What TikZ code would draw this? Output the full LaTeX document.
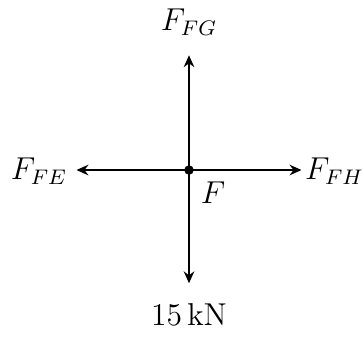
\documentclass[tikz,border=0pt]{standalone}
\usetikzlibrary{positioning, arrows.meta}
\tikzset{force/.style={thick, -{Stealth[length=4.5pt, width=4pt]}},
    lbl/.style={font=\fontsize{11.5}{14}\selectfont}}
\begin{document}
\begin{tikzpicture}
    \useasboundingbox (-2.52, -2.213) rectangle (2.333, 2.267);
    % joint F and the ends of the forces
    \coordinate (jointF) at (0, 0);
    \coordinate (endFG) at (0, 1.53);
    \coordinate (endFE) at (-1.5, 0);
    \coordinate (endFH) at (1.5, 0);
    \coordinate (endLoad) at (0, -1.51);
    \draw[force] (jointF) -- (endFG);
    \draw[force] (jointF) -- (endFE);
    \draw[force] (jointF) -- (endFH);
    \draw[force] (jointF) -- (endLoad);
    \fill (jointF) circle (1.8pt);

    % labels
    \node[lbl] (lblFG) at (0, 1.97) {$F_{FG}$};
    \node[lbl] (lblFE) at (-2.0, -0.02) {$F_{FE}$};
    \node[lbl] (lblFH) at (1.94, -0.02) {$F_{FH}$};
    \node[lbl] (lblF) at (0.32, -0.3) {$F$};
    \node[lbl] (lblLoad) at (0, -1.93) {$15\,\mathrm{kN}$};
\end{tikzpicture}
\end{document}
